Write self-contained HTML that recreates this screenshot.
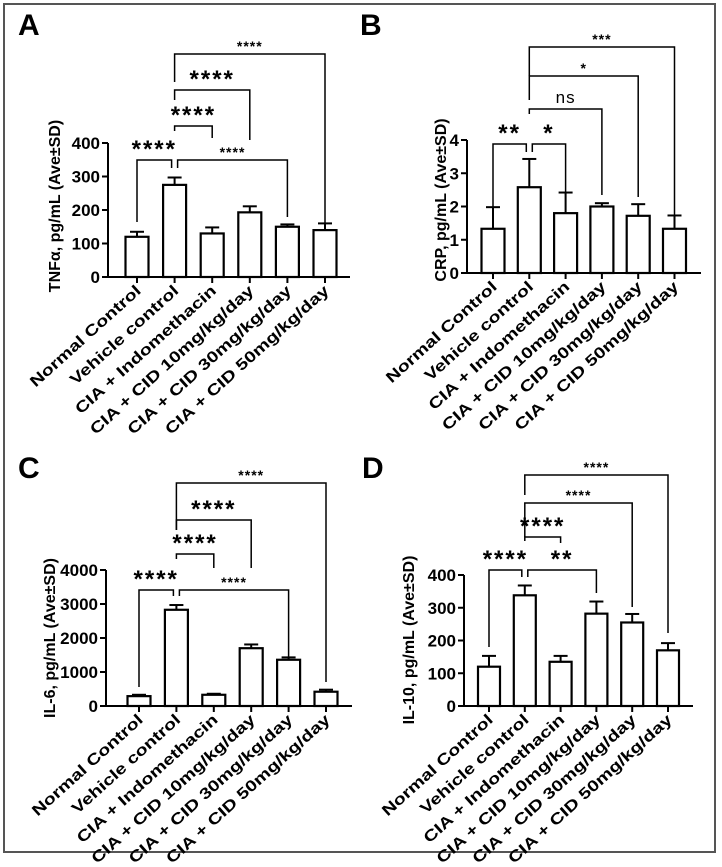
<!DOCTYPE html>
<html><head><meta charset="utf-8"><style>
html,body{margin:0;padding:0;background:#fff;}
svg{display:block;font-family:"Liberation Sans",Arial,sans-serif;}
</style></head><body>
<svg id="fig" width="722" height="867" viewBox="0 0 722 867">
<rect x="4" y="4" width="711" height="848" fill="none" stroke="#555" stroke-width="2"/>
</svg>
<script>
const categories = ["Normal Control","Vehicle control","CIA + Indomethacin","CIA + CID 10mg/kg/day","CIA + CID 30mg/kg/day","CIA + CID 50mg/kg/day"];
const tnfValues = [120,275,130,193,150,140];
const tnfErrors = [15,22,18,18,7,20];
const tnfTicks = [0,100,200,300,400];
const crpValues = [1.33,2.58,1.8,2.0,1.72,1.33];
const crpErrors = [0.65,0.85,0.62,0.1,0.35,0.4];
const crpTicks = [0,1,2,3,4];
const il6Values = [290,2830,330,1700,1360,420];
const il6Errors = [40,140,30,110,70,60];
const il6Ticks = [0,1000,2000,3000,4000];
const il10Values = [120,338,135,282,255,170];
const il10Errors = [33,30,18,37,26,22];
const il10Ticks = [0,100,200,300,400];

const NS="http://www.w3.org/2000/svg";
const svg=document.getElementById('fig');
function mk(tag,attrs,parent){const e=document.createElementNS(NS,tag);for(const k in attrs)e.setAttribute(k,attrs[k]);(parent||svg).appendChild(e);return e;}

const panels=[
 {id:'a',letter:'A',lx:18,ly:35,ax:108,y0:277,yTop:143,max:400,x0:137,step:37.6,xEnd:350,bw:23,vals:tnfValues,errs:tnfErrors,ticks:tnfTicks,title:'TNFα, pg/mL (Ave±SD)',tx:60,ty:206,
  br:[[0,1,160,222,168,'****','big',-3],[1,4,160,168,217,'****','small',3],[1,2,126,131,138,'****','big',0],[1,3,90,100,140,'****','big',0],[1,5,54,82,225,'****','small',0]]},
 {id:'b',letter:'B',lx:360,ly:35,ax:467,y0:273,yTop:140,max:4,x0:493,step:36.3,xEnd:701,bw:23,vals:crpValues,errs:crpErrors,ticks:crpTicks,title:'CRP, pg/mL (Ave±SD)',tx:446,ty:200,
  br:[[0,1,144,207,152,'**','big',-3],[1,2,144,152,195,'*','big',3],[1,3,109,114,195,'ns','ns',0],[1,4,76,100,197,'*','small',0],[1,5,47,76,215,'***','small',0]]},
 {id:'c',letter:'C',lx:18,ly:478,ax:106,y0:706,yTop:570,max:4000,x0:139,step:37.4,xEnd:352,bw:23,vals:il6Values,errs:il6Errors,ticks:il6Ticks,title:'IL-6, pg/mL (Ave±SD)',tx:55,ty:638,
  br:[[0,1,590,687,596,'****','big',-3],[1,4,590,596,658,'****','small',3],[1,2,554,559,568,'****','big',0],[1,3,520,530,568,'****','big',0],[1,5,483,530,682,'****','small',0]]},
 {id:'d',letter:'D',lx:362,ly:478,ax:464,y0:706,yTop:575,max:400,x0:489,step:35.8,xEnd:693,bw:22,vals:il10Values,errs:il10Errors,ticks:il10Ticks,title:'IL-10, pg/mL (Ave±SD)',tx:414,ty:640,
  br:[[0,1,570,647,577,'****','big',-3],[1,3,570,577,593,'**','big',3],[1,2,537,541,543,'****','big',0],[1,4,503,537,607,'****','small',0],[1,5,475,495,633,'****','small',0]]}
];

panels.forEach(p=>{
 const g=mk('g',{});
 
 
 const yS=v=>p.y0-(v/p.max)*(p.y0-p.yTop);
 const xS=i=>p.x0+i*p.step;
 const L=mk('text',{x:p.lx,y:p.ly,'font-size':30,'font-weight':'bold'},g);L.textContent=p.letter;
 
 
 const ya=mk('line',{x1:p.ax,y1:p.y0,x2:p.ax,y2:p.yTop,stroke:'#000','stroke-width':2},g);
 
 
 p.ticks.forEach(t=>{
  mk('line',{x1:p.ax-6,x2:p.ax,y1:yS(t),y2:yS(t),stroke:'#000','stroke-width':2},g);
  const tl=mk('text',{x:p.ax-8,y:yS(t)+6,'text-anchor':'end','font-size':17,'font-weight':'bold'},g);
  tl.textContent=t;
  
  
 });
 const xa=mk('line',{x1:p.ax-6,y1:p.y0,x2:p.xEnd,y2:p.y0,stroke:'#000','stroke-width':2},g);
 
 
 const yt=mk('text',{x:0,y:0,'text-anchor':'middle','font-size':16,'font-weight':'bold',transform:`translate(${p.tx},${p.ty}) rotate(-90)`},g);
 yt.textContent=p.title;
 
 
 p.vals.forEach((v,i)=>{
  const cx=xS(i), e=p.errs[i];
  mk('line',{x1:cx,x2:cx,y1:yS(v),y2:yS(v+e),stroke:'#000','stroke-width':2},g);
  mk('line',{x1:cx-7,x2:cx+7,y1:yS(v+e),y2:yS(v+e),stroke:'#000','stroke-width':2},g);
  const b=mk('rect',{x:cx-p.bw/2,y:yS(v),width:p.bw,height:p.y0-yS(v),fill:'#fff',stroke:'#000','stroke-width':2.2},g);
  
  
  mk('line',{x1:cx,x2:cx,y1:p.y0,y2:p.y0+6,stroke:'#000','stroke-width':2},g);
  const cl=mk('text',{x:0,y:0,'text-anchor':'end','font-size':15.5,'font-weight':'bold',transform:`translate(${cx+5},${p.y0+15}) rotate(-42) scale(1.27,1)`},g);
  cl.textContent=categories[i];
  
  
 });
 p.br.forEach(b=>{
  const [i,j,y,d1,d2,lab,sz,off]=b;
  let x1=xS(i),x2=xS(j);
  if(off<0)x2+=off; else x1+=off;
  const pl=mk('polyline',{points:`${x1},${d1} ${x1},${y} ${x2},${y} ${x2},${d2}`,fill:'none',stroke:'#000','stroke-width':1.5},g);
  
  
  const fs=sz==='big'?24:(sz==='ns'?17:14);
  const by=sz==='big'?y-3:(sz==='ns'?y-6:y-3);
  const t=mk('text',{x:(x1+x2)/2,y:by,'text-anchor':'middle','font-size':fs,'font-weight':sz==='ns'?'normal':'bold','letter-spacing':sz==='big'?2:1},g);
  t.textContent=lab;
  
  
 });
});
</script>
</body></html>
